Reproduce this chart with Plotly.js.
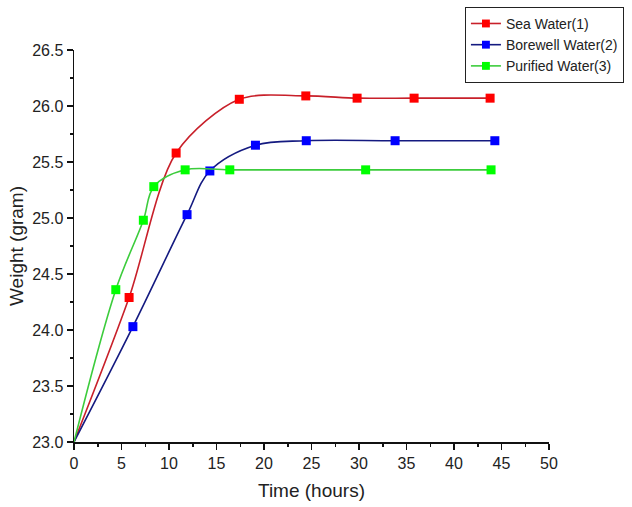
<!DOCTYPE html>
<html>
<head>
<meta charset="utf-8">
<script src="https://cdn.plot.ly/plotly-3.0.1.min.js"></script>
<style>html,body{margin:0;padding:0;background:#fff;}#chart{width:632px;height:507px;}</style>
</head>
<body>
<div id="chart"></div>
<script>
var seaName = "Sea Water(1)";
var boreName = "Borewell Water(2)";
var pureName = "Purified Water(3)";

var seaX = [0, 5.8, 10.75, 17.4, 24.4, 29.8, 35.8, 43.8];
var seaY = [23.0, 24.29, 25.58, 26.06, 26.09, 26.07, 26.07, 26.07];

var boreX = [0, 6.2, 11.9, 14.3, 19.1, 24.45, 33.8, 44.3];
var boreY = [23.0, 24.03, 25.03, 25.42, 25.65, 25.69, 25.69, 25.69];

var pureX = [0, 4.4, 7.3, 8.4, 11.7, 16.4, 30.7, 43.9];
var pureY = [23.0, 24.36, 24.98, 25.28, 25.43, 25.43, 25.43, 25.43];

var xTicks = [0, 5, 10, 15, 20, 25, 30, 35, 40, 45, 50];
var yTicks = [23.0, 23.5, 24.0, 24.5, 25.0, 25.5, 26.0, 26.5];

function sizes(arr) { return arr.map(function (v, i) { return i === 0 ? 0 : 9; }); }

function mk(name, x, y, lineColor, markColor, smooth) {
  return {
    type: 'scatter', mode: 'lines+markers', name: name, x: x, y: y,
    line: {color: lineColor, width: 1.6, shape: 'spline', smoothing: smooth},
    marker: {symbol: 'square', size: sizes(x), color: markColor, opacity: 1, line: {width: 0}},
    cliponaxis: false
  };
}

var data = [
  mk(seaName, seaX, seaY, '#c8202a', '#ff0000', 0.85),
  mk(boreName, boreX, boreY, '#141a80', '#0000ff', 1),
  mk(pureName, pureX, pureY, '#3ccc3c', '#00ff00', 1)
];

var font = "'Liberation Sans', Arial, sans-serif";
var layout = {
  width: 632, height: 507,
  margin: {l: 74, r: 83, t: 50, b: 65, autoexpand: false},
  paper_bgcolor: '#fff', plot_bgcolor: '#fff',
  font: {family: font, color: '#222', size: 16},
  showlegend: true,
  legend: {
    x: 0.823, y: 1.11, xanchor: 'left', yanchor: 'top',
    bgcolor: '#fff', bordercolor: '#222', borderwidth: 1,
    font: {family: font, size: 14, color: '#222'},
    traceorder: 'normal'
  },
  xaxis: {
    range: [0, 50], tickvals: xTicks, ticktext: xTicks.map(String),
    showgrid: false, zeroline: false, showline: true, linecolor: '#111', linewidth: 1.5,
    ticks: 'outside', ticklen: 6, tickwidth: 1.5, tickcolor: '#111',
    minor: {ticks: 'outside', ticklen: 3, tickwidth: 1.5, tickcolor: '#111', dtick: 2.5, tick0: 0, showgrid: false},
    tickfont: {size: 16},
    title: {text: 'Time (hours)', font: {size: 19, color: '#222'}, standoff: 13}
  },
  yaxis: {
    range: [23.0, 26.5], tickvals: yTicks, ticktext: yTicks.map(function (v) { return v.toFixed(1); }),
    showgrid: false, zeroline: false, showline: true, linecolor: '#111', linewidth: 1.5,
    ticks: 'outside', ticklen: 6, tickwidth: 1.5, tickcolor: '#111',
    minor: {ticks: 'outside', ticklen: 3, tickwidth: 1.5, tickcolor: '#111', dtick: 0.25, tick0: 23, showgrid: false},
    tickfont: {size: 16},
    title: {text: 'Weight (gram)', font: {size: 19, color: '#222'}, standoff: 3}
  }
};

Plotly.newPlot('chart', data, layout, {displayModeBar: false, staticPlot: true});
</script>
</body>
</html>
